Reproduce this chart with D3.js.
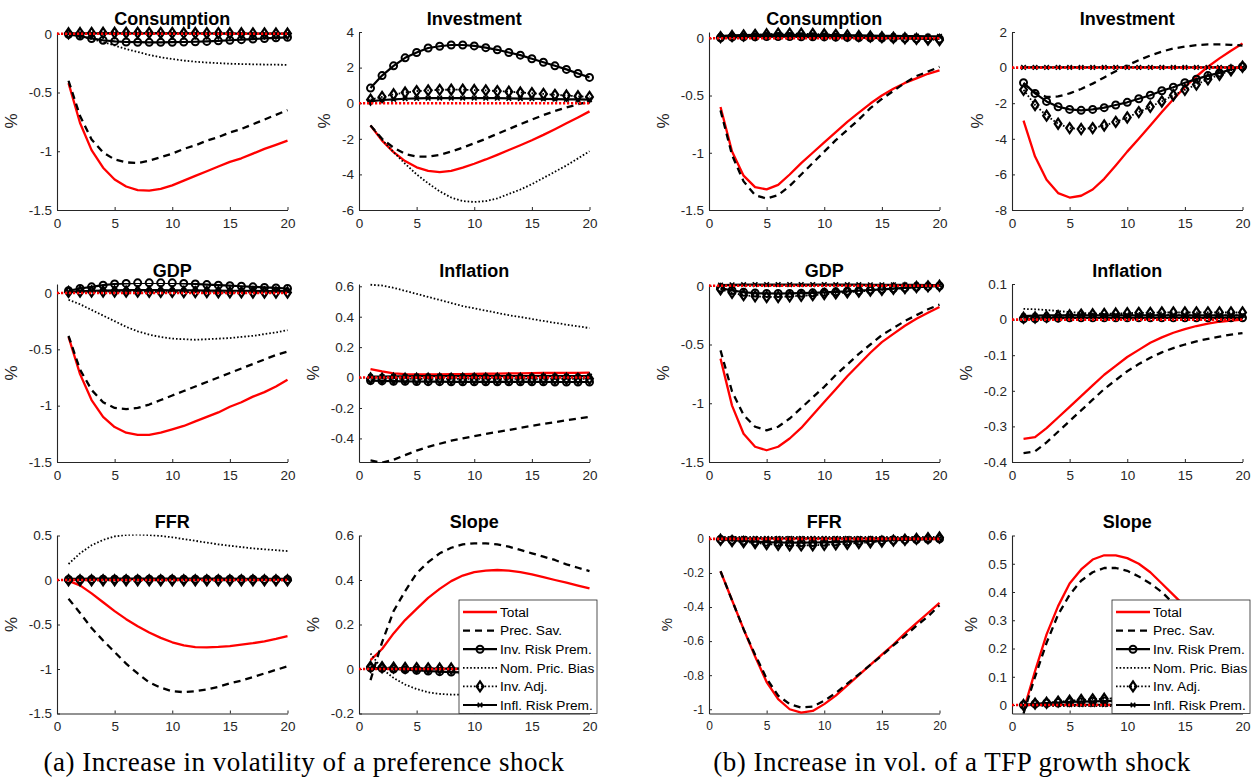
<!DOCTYPE html>
<html>
<head>
<meta charset="utf-8">
<script src="https://cdn.jsdelivr.net/npm/d3@7"></script>
<style>
  body { margin: 0; background: #fff; }
  text { font-family: "Liberation Sans", Arial, sans-serif; }
</style>
</head>
<body>
<svg id="fig" width="1256" height="778"></svg>
<script>
// horizons (quarters)
const horizons = [1,2,3,4,5,6,7,8,9,10,11,12,13,14,15,16,17,18,19,20];
const seriesNames = ["Total", "Prec. Sav.", "Inv. Risk Prem.", "Nom. Pric. Bias", "Inv. Adj.", "Infl. Risk Prem."];
const captions = ["(a) Increase in volatility of a preference shock", "(b) Increase in vol. of a TFP growth shock"];
const xTicks = [0, 5, 10, 15, 20];

// each panel: [Total, Prec. Sav., Inv. Risk Prem., Nom. Pric. Bias, Inv. Adj., Infl. Risk Prem.]
const prefConsumption = [
  [-0.42,-0.76,-0.99,-1.14,-1.24,-1.30,-1.33,-1.335,-1.32,-1.29,-1.25,-1.21,-1.17,-1.13,-1.09,-1.06,-1.02,-0.98,-0.945,-0.91],
  [-0.40,-0.70,-0.90,-1.01,-1.07,-1.095,-1.10,-1.08,-1.05,-1.02,-0.98,-0.95,-0.91,-0.88,-0.84,-0.81,-0.77,-0.73,-0.69,-0.65],
  [-0.005,-0.02,-0.04,-0.055,-0.065,-0.07,-0.072,-0.073,-0.073,-0.072,-0.07,-0.068,-0.065,-0.06,-0.055,-0.05,-0.045,-0.04,-0.035,-0.03],
  [0,-0.02,-0.045,-0.07,-0.10,-0.13,-0.155,-0.18,-0.20,-0.215,-0.228,-0.238,-0.245,-0.25,-0.255,-0.258,-0.26,-0.262,-0.263,-0.265],
  [0.004,0.006,0.007,0.008,0.008,0.008,0.008,0.008,0.007,0.007,0.006,0.006,0.005,0.005,0.004,0.004,0.003,0.003,0.002,0.002],
  [0.002,0.003,0.004,0.004,0.004,0.004,0.004,0.004,0.004,0.003,0.003,0.003,0.003,0.002,0.002,0.002,0.002,0.002,0.001,0.001]
];
const prefInvestment = [
  [-1.25,-2.1,-2.75,-3.25,-3.6,-3.8,-3.87,-3.8,-3.62,-3.4,-3.16,-2.9,-2.63,-2.36,-2.08,-1.78,-1.46,-1.13,-0.8,-0.46],
  [-1.25,-2.0,-2.5,-2.85,-3.0,-3.0,-2.9,-2.72,-2.5,-2.25,-2.0,-1.72,-1.45,-1.18,-0.92,-0.67,-0.44,-0.24,-0.06,0.1],
  [0.85,1.55,2.1,2.55,2.85,3.1,3.2,3.27,3.27,3.22,3.12,3.0,2.85,2.7,2.5,2.3,2.1,1.9,1.67,1.45],
  [-1.25,-2.05,-2.75,-3.4,-4.0,-4.5,-4.95,-5.3,-5.5,-5.55,-5.5,-5.35,-5.1,-4.85,-4.55,-4.2,-3.85,-3.5,-3.1,-2.7],
  [0.2,0.35,0.5,0.6,0.68,0.72,0.75,0.76,0.76,0.74,0.72,0.68,0.65,0.6,0.56,0.52,0.47,0.43,0.39,0.35],
  [0.1,0.18,0.22,0.25,0.27,0.28,0.29,0.29,0.29,0.29,0.28,0.28,0.27,0.26,0.25,0.24,0.23,0.22,0.21,0.2]
];
const prefGDP = [
  [-0.39,-0.72,-0.95,-1.1,-1.19,-1.24,-1.26,-1.26,-1.24,-1.21,-1.18,-1.14,-1.1,-1.06,-1.01,-0.97,-0.92,-0.88,-0.83,-0.77],
  [-0.38,-0.68,-0.86,-0.97,-1.02,-1.03,-1.02,-0.99,-0.95,-0.91,-0.87,-0.83,-0.79,-0.75,-0.71,-0.67,-0.63,-0.59,-0.55,-0.52],
  [0.02,0.04,0.055,0.07,0.08,0.085,0.09,0.09,0.09,0.09,0.085,0.08,0.075,0.07,0.065,0.06,0.055,0.05,0.045,0.04],
  [-0.06,-0.1,-0.15,-0.2,-0.25,-0.3,-0.34,-0.37,-0.39,-0.405,-0.41,-0.415,-0.41,-0.405,-0.4,-0.39,-0.38,-0.365,-0.35,-0.33],
  [0.01,0.012,0.013,0.013,0.013,0.012,0.012,0.011,0.01,0.01,0.009,0.008,0.008,0.007,0.006,0.006,0.005,0.005,0.004,0.004],
  [0.01,0.015,0.02,0.022,0.024,0.025,0.025,0.025,0.025,0.024,0.024,0.023,0.022,0.021,0.02,0.02,0.019,0.018,0.017,0.016]
];
const prefInflation = [
  [0.055,0.04,0.028,0.022,0.02,0.02,0.021,0.022,0.023,0.024,0.025,0.026,0.027,0.028,0.029,0.03,0.03,0.031,0.031,0.032],
  [-0.545,-0.56,-0.54,-0.51,-0.48,-0.455,-0.435,-0.415,-0.4,-0.385,-0.37,-0.358,-0.345,-0.33,-0.317,-0.305,-0.293,-0.281,-0.27,-0.258],
  [-0.02,-0.022,-0.024,-0.025,-0.026,-0.027,-0.027,-0.028,-0.028,-0.028,-0.028,-0.028,-0.028,-0.028,-0.028,-0.028,-0.029,-0.029,-0.029,-0.029],
  [0.61,0.605,0.59,0.57,0.55,0.53,0.51,0.49,0.47,0.455,0.44,0.425,0.41,0.398,0.385,0.372,0.36,0.348,0.337,0.325],
  [-0.006,-0.007,-0.008,-0.008,-0.008,-0.008,-0.008,-0.008,-0.008,-0.008,-0.008,-0.008,-0.008,-0.008,-0.008,-0.008,-0.008,-0.008,-0.008,-0.008],
  [0.006,0.007,0.008,0.008,0.009,0.009,0.009,0.009,0.009,0.009,0.009,0.009,0.009,0.009,0.009,0.009,0.009,0.009,0.009,0.009]
];
const prefFFR = [
  [-0.01,-0.06,-0.15,-0.25,-0.35,-0.44,-0.52,-0.59,-0.65,-0.7,-0.735,-0.755,-0.758,-0.752,-0.742,-0.727,-0.71,-0.69,-0.662,-0.63],
  [-0.21,-0.37,-0.54,-0.68,-0.81,-0.94,-1.05,-1.15,-1.21,-1.25,-1.26,-1.25,-1.23,-1.2,-1.16,-1.13,-1.09,-1.05,-1.01,-0.97],
  [0.005,0.006,0.007,0.008,0.008,0.009,0.009,0.009,0.009,0.009,0.009,0.009,0.009,0.008,0.008,0.008,0.008,0.007,0.007,0.007],
  [0.18,0.3,0.39,0.45,0.49,0.505,0.51,0.505,0.495,0.48,0.46,0.44,0.42,0.4,0.385,0.37,0.355,0.345,0.335,0.325],
  [-0.002,-0.003,-0.003,-0.003,-0.003,-0.003,-0.003,-0.003,-0.003,-0.003,-0.003,-0.003,-0.003,-0.003,-0.003,-0.003,-0.003,-0.003,-0.003,-0.003],
  [0.012,0.014,0.015,0.016,0.016,0.016,0.016,0.016,0.016,0.016,0.016,0.015,0.015,0.015,0.015,0.014,0.014,0.014,0.014,0.013]
];
const prefSlope = [
  [0.04,0.09,0.16,0.22,0.27,0.32,0.36,0.395,0.42,0.435,0.442,0.445,0.442,0.435,0.425,0.413,0.4,0.388,0.375,0.362],
  [-0.05,0.12,0.26,0.35,0.43,0.48,0.52,0.545,0.56,0.565,0.565,0.56,0.55,0.535,0.52,0.505,0.49,0.47,0.455,0.44],
  [0.005,0.003,0,-0.003,-0.006,-0.009,-0.012,-0.014,-0.015,-0.016,-0.016,-0.016,-0.016,-0.015,-0.015,-0.014,-0.013,-0.012,-0.011,-0.01],
  [0.07,0.0,-0.04,-0.07,-0.09,-0.105,-0.112,-0.115,-0.115,-0.113,-0.11,-0.105,-0.1,-0.095,-0.09,-0.085,-0.08,-0.075,-0.07,-0.065],
  [0.01,0.008,0.006,0.005,0.004,0.003,0.002,0.002,0.001,0.001,0.001,0.001,0,0,0,0,0,0,0,0],
  [0.002,0.002,0.002,0.002,0.002,0.002,0.002,0.002,0.002,0.002,0.001,0.001,0.001,0.001,0.001,0.001,0.001,0.001,0.001,0.001]
];

const tfpConsumption = [
  [-0.6,-0.99,-1.2,-1.3,-1.32,-1.28,-1.19,-1.09,-1.0,-0.91,-0.82,-0.73,-0.65,-0.57,-0.5,-0.44,-0.39,-0.35,-0.31,-0.28],
  [-0.63,-1.02,-1.25,-1.37,-1.4,-1.37,-1.29,-1.19,-1.09,-0.99,-0.89,-0.8,-0.71,-0.61,-0.53,-0.46,-0.39,-0.33,-0.29,-0.25],
  [0.005,0.01,0.012,0.014,0.015,0.015,0.015,0.014,0.013,0.012,0.01,0.008,0.006,0.004,0.002,0.0,-0.002,-0.004,-0.005,-0.006],
  [0.01,0.012,0.013,0.014,0.014,0.014,0.014,0.013,0.013,0.012,0.012,0.011,0.01,0.01,0.009,0.008,0.008,0.007,0.006,0.006],
  [0.01,0.02,0.025,0.03,0.035,0.04,0.04,0.04,0.038,0.035,0.03,0.025,0.02,0.015,0.01,0.005,0.0,-0.005,-0.01,-0.015],
  [0.02,0.025,0.028,0.03,0.03,0.03,0.03,0.03,0.029,0.028,0.027,0.026,0.025,0.024,0.022,0.021,0.02,0.019,0.018,0.017]
];
const tfpInvestment = [
  [-2.98,-5.0,-6.3,-7.05,-7.3,-7.2,-6.85,-6.25,-5.5,-4.72,-4.0,-3.25,-2.5,-1.78,-1.1,-0.5,0.05,0.52,0.95,1.35],
  [-0.9,-1.4,-1.65,-1.62,-1.45,-1.2,-0.9,-0.55,-0.2,0.12,0.42,0.68,0.9,1.07,1.18,1.26,1.3,1.3,1.28,1.24],
  [-0.85,-1.45,-1.9,-2.2,-2.35,-2.4,-2.35,-2.25,-2.1,-1.95,-1.75,-1.55,-1.3,-1.1,-0.85,-0.65,-0.45,-0.3,-0.1,0.05],
  [0.02,0.02,0.02,0.02,0.02,0.02,0.02,0.02,0.02,0.02,0.02,0.02,0.02,0.02,0.02,0.02,0.02,0.02,0.02,0.02],
  [-1.25,-2.1,-2.7,-3.15,-3.4,-3.45,-3.4,-3.25,-3.05,-2.8,-2.5,-2.2,-1.9,-1.55,-1.25,-0.95,-0.65,-0.4,-0.15,0.05],
  [0.01,0.01,0.01,0.01,0.01,0.01,0.01,0.01,0.01,0.01,0.01,0.01,0.01,0.01,0.01,0.01,0.01,0.01,0.01,0.01]
];
const tfpGDP = [
  [-0.62,-1.02,-1.26,-1.37,-1.4,-1.37,-1.3,-1.21,-1.1,-0.99,-0.88,-0.77,-0.67,-0.57,-0.48,-0.41,-0.34,-0.28,-0.23,-0.18],
  [-0.55,-0.9,-1.1,-1.2,-1.23,-1.2,-1.13,-1.04,-0.95,-0.86,-0.76,-0.67,-0.58,-0.5,-0.42,-0.36,-0.3,-0.25,-0.2,-0.16],
  [-0.02,-0.04,-0.055,-0.062,-0.065,-0.066,-0.065,-0.063,-0.06,-0.056,-0.052,-0.047,-0.042,-0.036,-0.03,-0.024,-0.018,-0.012,-0.007,-0.002],
  [0.004,0.004,0.004,0.004,0.004,0.004,0.004,0.004,0.004,0.004,0.004,0.004,0.004,0.004,0.004,0.004,0.004,0.004,0.004,0.004],
  [-0.03,-0.06,-0.08,-0.09,-0.095,-0.095,-0.09,-0.085,-0.08,-0.07,-0.065,-0.055,-0.05,-0.04,-0.035,-0.025,-0.02,-0.01,-0.005,0.0],
  [0.006,0.008,0.009,0.01,0.01,0.01,0.01,0.01,0.01,0.01,0.009,0.009,0.009,0.008,0.008,0.008,0.007,0.007,0.006,0.006]
];
const tfpInflation = [
  [-0.335,-0.33,-0.305,-0.275,-0.245,-0.215,-0.185,-0.155,-0.13,-0.105,-0.085,-0.065,-0.05,-0.037,-0.027,-0.018,-0.011,-0.006,-0.003,0.0],
  [-0.375,-0.37,-0.345,-0.315,-0.285,-0.255,-0.225,-0.195,-0.17,-0.145,-0.125,-0.107,-0.092,-0.08,-0.07,-0.061,-0.054,-0.048,-0.042,-0.038],
  [0.002,0.003,0.004,0.004,0.005,0.005,0.005,0.005,0.005,0.005,0.005,0.005,0.005,0.005,0.005,0.005,0.005,0.005,0.005,0.005],
  [0.03,0.029,0.027,0.024,0.021,0.019,0.017,0.016,0.015,0.014,0.014,0.013,0.013,0.013,0.012,0.012,0.012,0.012,0.012,0.012],
  [0.005,0.006,0.008,0.01,0.012,0.014,0.015,0.016,0.017,0.018,0.019,0.019,0.02,0.02,0.02,0.02,0.02,0.02,0.02,0.02],
  [0.01,0.011,0.012,0.012,0.012,0.012,0.012,0.012,0.012,0.012,0.012,0.012,0.012,0.012,0.012,0.012,0.012,0.012,0.012,0.012]
];
const tfpFFR = [
  [-0.19,-0.36,-0.53,-0.69,-0.84,-0.94,-1.0,-1.02,-1.01,-0.97,-0.92,-0.86,-0.8,-0.74,-0.68,-0.62,-0.555,-0.495,-0.435,-0.375],
  [-0.19,-0.36,-0.53,-0.68,-0.82,-0.92,-0.97,-0.99,-0.985,-0.95,-0.905,-0.85,-0.795,-0.74,-0.685,-0.625,-0.57,-0.51,-0.455,-0.39],
  [-0.003,-0.008,-0.012,-0.016,-0.019,-0.021,-0.022,-0.022,-0.021,-0.02,-0.018,-0.016,-0.014,-0.012,-0.01,-0.008,-0.006,-0.004,-0.002,0.0],
  [0.012,0.012,0.012,0.012,0.012,0.012,0.012,0.012,0.012,0.012,0.012,0.012,0.012,0.012,0.012,0.012,0.012,0.012,0.012,0.012],
  [-0.005,-0.012,-0.018,-0.024,-0.03,-0.034,-0.037,-0.038,-0.037,-0.035,-0.032,-0.028,-0.024,-0.02,-0.015,-0.01,-0.005,0.0,0.004,0.008],
  [0.003,0.003,0.003,0.003,0.003,0.003,0.003,0.003,0.003,0.003,0.003,0.003,0.003,0.003,0.003,0.003,0.003,0.003,0.003,0.003]
];
const tfpSlope = [
  [-0.02,0.12,0.25,0.35,0.43,0.48,0.515,0.53,0.53,0.52,0.5,0.47,0.43,0.39,0.35,0.31,0.27,0.23,0.2,0.17],
  [-0.03,0.1,0.22,0.32,0.39,0.44,0.47,0.485,0.485,0.475,0.455,0.43,0.4,0.36,0.33,0.3,0.27,0.24,0.21,0.19],
  [0.0,0.004,0.007,0.009,0.011,0.012,0.013,0.014,0.015,0.015,0.015,0.015,0.015,0.015,0.015,0.015,0.015,0.015,0.015,0.015],
  [0.0,-0.002,-0.003,-0.004,-0.004,-0.004,-0.004,-0.004,-0.004,-0.004,-0.004,-0.004,-0.004,-0.004,-0.004,-0.004,-0.004,-0.004,-0.004,-0.004],
  [0.0,0.005,0.008,0.012,0.015,0.018,0.02,0.022,0.024,0.026,0.027,0.028,0.029,0.03,0.03,0.03,0.03,0.03,0.03,0.03],
  [0.0,0.001,0.001,0.001,0.001,0.001,0.001,0.001,0.001,0.001,0.001,0.001,0.001,0.001,0.001,0.001,0.001,0.001,0.001,0.001]
];

const panels = [
  { col: 0, row: 0, title: "Consumption", data: prefConsumption, yDomain: [-1.5, 0.015], yTicks: [-1.5, -1, -0.5, 0] },
  { col: 1, row: 0, title: "Investment",  data: prefInvestment,  yDomain: [-6, 4],        yTicks: [-6, -4, -2, 0, 2, 4] },
  { col: 0, row: 1, title: "GDP",         data: prefGDP,         yDomain: [-1.5, 0.08],   yTicks: [-1.5, -1, -0.5, 0] },
  { col: 1, row: 1, title: "Inflation",   data: prefInflation,   yDomain: [-0.555, 0.615], yTicks: [-0.4, -0.2, 0, 0.2, 0.4, 0.6] },
  { col: 0, row: 2, title: "FFR",         data: prefFFR,         yDomain: [-1.5, 0.5],    yTicks: [-1.5, -1, -0.5, 0, 0.5] },
  { col: 1, row: 2, title: "Slope",       data: prefSlope,       yDomain: [-0.2, 0.6],    yTicks: [-0.2, 0, 0.2, 0.4, 0.6], legend: true },
  { col: 2, row: 0, title: "Consumption", data: tfpConsumption,  yDomain: [-1.5, 0.055],  yTicks: [-1.5, -1, -0.5, 0] },
  { col: 3, row: 0, title: "Investment",  data: tfpInvestment,   yDomain: [-8, 2],        yTicks: [-8, -6, -4, -2, 0, 2] },
  { col: 2, row: 1, title: "GDP",         data: tfpGDP,          yDomain: [-1.5, 0.015],  yTicks: [-1.5, -1, -0.5, 0] },
  { col: 3, row: 1, title: "Inflation",   data: tfpInflation,    yDomain: [-0.4, 0.1],    yTicks: [-0.4, -0.3, -0.2, -0.1, 0, 0.1] },
  { col: 2, row: 2, title: "FFR",         data: tfpFFR,          yDomain: [-1.025, 0.02], yTicks: [-1, -0.8, -0.6, -0.4, -0.2, 0], small: true },
  { col: 3, row: 2, title: "Slope",       data: tfpSlope,        yDomain: [-0.03, 0.6],   yTicks: [0, 0.1, 0.2, 0.3, 0.4, 0.5, 0.6], legend: true }
];

// layout
const colX = [57, 359, 709, 1012], rowY = [32, 284, 535.5];
const W = 230.5, H = 178;
const axisColor = "#262626";

const styles = [
  { color: "#ff0000", width: 2.3, dash: null,    marker: null },
  { color: "#000",    width: 2.3, dash: "7,5",   marker: null },
  { color: "#000",    width: 2.2, dash: null,    marker: "circle" },
  { color: "#000",    width: 1.8, dash: "1.6,2", marker: null },
  { color: "#000",    width: 1.8, dash: "1.6,2", marker: "diamond" },
  { color: "#000",    width: 2.2, dash: null,    marker: "x" }
];

const fmt = d => String(Math.round(d * 100) / 100);
const svg = d3.select("#fig");

function drawMarker(g, kind, cx, cy) {
  if (kind === "circle") {
    g.append("circle").attr("cx", cx).attr("cy", cy).attr("r", 3.5)
      .attr("fill", "none").attr("stroke", "#000").attr("stroke-width", 2);
  } else if (kind === "diamond") {
    g.append("path").attr("d", `M${cx},${cy - 5}L${cx + 3.4},${cy}L${cx},${cy + 5}L${cx - 3.4},${cy}Z`)
      .attr("fill", "none").attr("stroke", "#000").attr("stroke-width", 2.2);
  } else if (kind === "x") {
    const s = 2.3;
    g.append("path").attr("d", `M${cx - s},${cy - s}L${cx + s},${cy + s}M${cx - s},${cy + s}L${cx + s},${cy - s}`)
      .attr("stroke", "#000").attr("stroke-width", 1.6).attr("fill", "none");
  }
}

panels.forEach((p, pi) => {
  const x0 = colX[p.col], y0 = rowY[p.row];
  const g = svg.append("g").attr("transform", `translate(${x0},${y0})`);
  const x = d3.scaleLinear().domain([0, 20]).range([0, W]);
  const y = d3.scaleLinear().domain(p.yDomain).range([H, 0]);
  const fs = p.small ? 12 : 13.5;

  g.append("clipPath").attr("id", "clip" + pi)
    .append("rect").attr("x", -2).attr("y", -1).attr("width", W + 4).attr("height", H + 2);

  // axes
  const xa = g.append("g").attr("transform", `translate(0,${H})`)
    .call(d3.axisBottom(x).tickValues(xTicks).tickFormat(fmt).tickSizeInner(-3).tickSizeOuter(0).tickPadding(8));
  const ya = g.append("g")
    .call(d3.axisLeft(y).tickValues(p.yTicks).tickFormat(fmt).tickSizeInner(-3).tickSizeOuter(0).tickPadding(5));
  [xa, ya].forEach(a => {
    a.select(".domain").attr("stroke", axisColor).attr("stroke-width", 1.1);
    a.selectAll(".tick line").attr("stroke", axisColor);
    a.selectAll("text").attr("fill", axisColor).style("font-size", fs + "px");
  });

  // lines
  const lineGen = d3.line().x(d => x(d[0])).y(d => y(d[1]));
  const lines = g.append("g").attr("clip-path", `url(#clip${pi})`);
  p.data.forEach((vals, si) => {
    const st = styles[si];
    const pts = horizons.map((h, i) => [h, vals[i]]);
    lines.append("path").datum(pts).attr("d", lineGen)
      .attr("fill", "none").attr("stroke", st.color).attr("stroke-width", st.width)
      .attr("stroke-dasharray", st.dash).attr("stroke-linejoin", "round");
    if (st.marker) {
      const mg = g.append("g");
      pts.forEach(d => drawMarker(mg, st.marker, x(d[0]), y(d[1])));
    }
  });

  // red dotted zero line
  g.append("line").attr("x1", x(0)).attr("x2", x(20)).attr("y1", y(0)).attr("y2", y(0))
    .attr("stroke", "#ff0000").attr("stroke-width", 2.6).attr("stroke-dasharray", "2.2,1.8");

  // title
  g.append("text").attr("x", W / 2).attr("y", -7.5).attr("text-anchor", "middle")
    .style("font-size", "18px").style("font-weight", "bold").attr("fill", "#000").text(p.title);

  // y label, left of widest tick label
  const bb = ya.node().getBBox();
  g.append("text").attr("transform", `translate(${bb.x - 11.5},${H / 2}) rotate(-90)`)
    .attr("text-anchor", "middle").style("font-size", p.small ? "15px" : "17px")
    .attr("fill", axisColor).text("%");

  // legend
  if (p.legend) {
    const lx = 100, ly = 64.5, lw = 138, lh = H - ly;
    const lg = g.append("g").attr("transform", `translate(${lx},${ly})`);
    lg.append("rect").attr("width", lw).attr("height", lh)
      .attr("fill", "#fff").attr("stroke", axisColor).attr("stroke-width", 0.8);
    seriesNames.forEach((name, si) => {
      const st = styles[si];
      const cy = 12 + si * 18.6;
      lg.append("line").attr("x1", 4).attr("x2", 38).attr("y1", cy).attr("y2", cy)
        .attr("stroke", st.color).attr("stroke-width", st.width).attr("stroke-dasharray", st.dash);
      if (st.marker) drawMarker(lg, st.marker, 21, cy);
      lg.append("text").attr("x", 41).attr("y", cy).attr("dy", "0.35em")
        .style("font-size", "13.7px").attr("fill", "#000").text(name);
    });
  }
});

// sub-figure captions
[304, 952].forEach((cx, i) => {
  svg.append("text").attr("x", cx).attr("y", 771).attr("text-anchor", "middle")
    .style("font-family", "'Liberation Serif', 'Times New Roman', serif")
    .style("font-size", "27px").style("letter-spacing", "0.5px")
    .attr("fill", "#000").text(captions[i]);
});
</script>
</body>
</html>
